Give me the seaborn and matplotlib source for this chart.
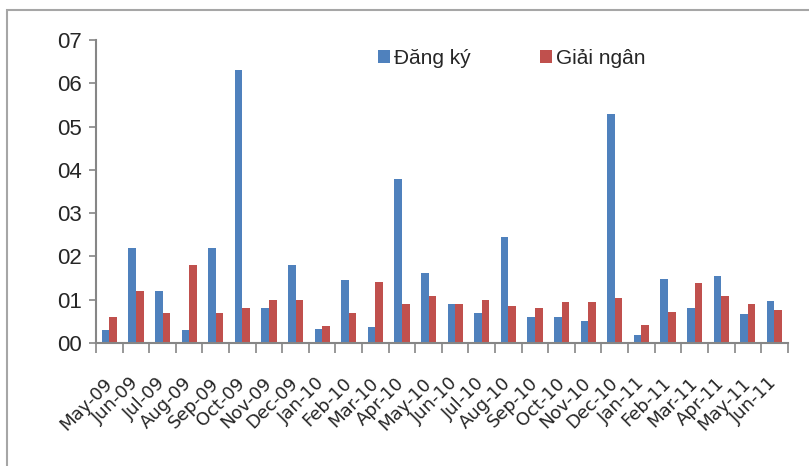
import matplotlib
matplotlib.use("Agg")
import matplotlib.pyplot as plt
import matplotlib.patches as mpatches
import numpy as np
import pandas as pd
import seaborn as sns

months = ["May-09", "Jun-09", "Jul-09", "Aug-09", "Sep-09", "Oct-09", "Nov-09",
          "Dec-09", "Jan-10", "Feb-10", "Mar-10", "Apr-10", "May-10", "Jun-10",
          "Jul-10", "Aug-10", "Sep-10", "Oct-10", "Nov-10", "Dec-10", "Jan-11",
          "Feb-11", "Mar-11", "Apr-11", "May-11", "Jun-11"]
dang_ky = [0.3, 2.2, 1.2, 0.3, 2.2, 6.3, 0.8, 1.8, 0.32, 1.46, 0.36, 3.79, 1.61,
           0.89, 0.69, 2.44, 0.61, 0.59, 0.5, 5.3, 0.18, 1.47, 0.8, 1.54, 0.66, 0.97]
giai_ngan = [0.6, 1.2, 0.7, 1.8, 0.7, 0.8, 1.0, 1.0, 0.39, 0.7, 1.4, 0.9, 1.09,
             0.89, 0.99, 0.85, 0.8, 0.95, 0.95, 1.05, 0.41, 0.72, 1.39, 1.08, 0.89, 0.77]
series_names = ["Đăng ký", "Giải ngân"]
y_ticks = [0, 1, 2, 3, 4, 5, 6, 7]

df = pd.DataFrame({
    "month": months * 2,
    "value": dang_ky + giai_ngan,
    "series": [series_names[0]] * len(months) + [series_names[1]] * len(months),
})

sns.set_theme(style="white")
plt.rcParams["font.family"] = ["DejaVu Sans"]

fig = plt.figure(figsize=(8.09, 4.66), dpi=100)
ax = fig.add_axes([0.1187, 0.264, 0.855, 0.650])

sns.barplot(data=df, x="month", y="value", hue="series", order=months,
            hue_order=series_names, palette=["#4F81BD", "#C0504D"],
            width=0.57, gap=0, saturation=1, ax=ax, errorbar=None)

for p in ax.patches:
    p.set_edgecolor("none")

ax.set_ylim(0, 7)
ax.set_xlim(-0.5, len(months) - 0.5)
ax.set_xlabel("")
ax.set_ylabel("")

axis_gray = "#868686"
for side in ["top", "right"]:
    ax.spines[side].set_visible(False)
for side in ["left", "bottom"]:
    ax.spines[side].set_color(axis_gray)
    ax.spines[side].set_linewidth(1.5)

ax.set_yticks(y_ticks)
ax.set_yticklabels([f"{v:02d}" for v in y_ticks],
                   family=["Liberation Sans", "DejaVu Sans"], fontsize=16)
ax.tick_params(axis="y", direction="out", length=5, width=1.2, color=axis_gray,
               left=True, pad=5)

ax.set_xticks(np.arange(len(months)))
ax.set_xticklabels(months, rotation=45, ha="right", rotation_mode="anchor",
                   va="center", fontsize=13)
ax.tick_params(axis="x", which="major", length=0, pad=27)
ax.set_xticks(np.arange(len(months) + 1) - 0.5, minor=True)
ax.tick_params(axis="x", which="minor", direction="out", length=7, width=1.2,
               color=axis_gray, bottom=True)

leg = ax.legend(loc="center left", bbox_to_anchor=(0.392, 0.94), ncol=2,
                frameon=False, borderpad=0, handlelength=0.6, handleheight=0.6,
                handletextpad=0.2, columnspacing=3.3,
                prop={"family": ["Liberation Sans", "DejaVu Sans"], "size": 15})

# outer chart-area frame
fig.patches.append(mpatches.Rectangle((0.0087, -0.1), 1.2, 0.9785 + 0.1,
                                      transform=fig.transFigure, fill=False,
                                      edgecolor="#a6a6a6", linewidth=1.5))

fig.savefig("out.png", dpi=100)
